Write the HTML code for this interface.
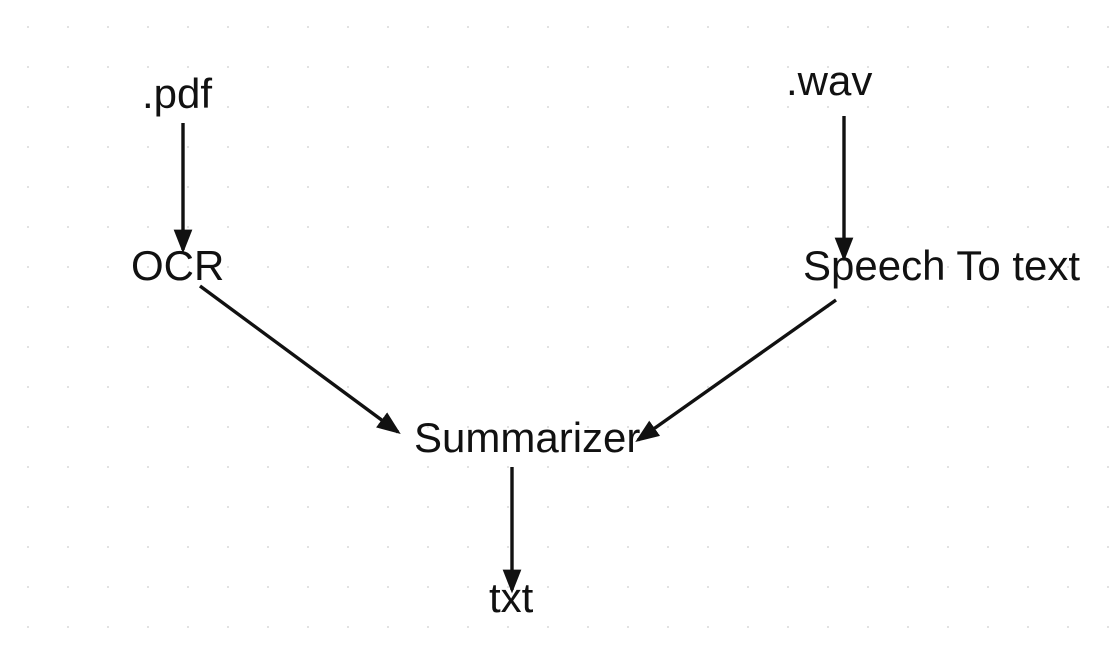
<!DOCTYPE html>
<html><head><style>
html,body{margin:0;padding:0;background:#fff;}
svg{display:block;}
text{font-family:"Liberation Sans",Arial,sans-serif;font-size:42px;fill:#111;}
</style></head><body>
<svg width="1113" height="646" viewBox="0 0 1113 646">
<defs>
<pattern id="g" x="27" y="26" width="40" height="40" patternUnits="userSpaceOnUse">
<rect x="0" y="0" width="2" height="2" fill="#e2e2e2"/>
</pattern>
<marker id="a" markerWidth="7" markerHeight="5.5" refX="6" refY="2.75" orient="auto" markerUnits="strokeWidth">
<path d="M0,0 L7,2.75 L0,5.5 z" fill="#111"/>
</marker>
</defs>
<rect width="1113" height="646" fill="url(#g)"/>
<g stroke="#111" stroke-width="3.4" fill="none" marker-end="url(#a)">
<line x1="183" y1="123" x2="183" y2="250"/>
<line x1="844" y1="116" x2="844" y2="258"/>
<line x1="200" y1="286" x2="398" y2="432"/>
<line x1="836" y1="300" x2="638" y2="440"/>
<line x1="512" y1="467" x2="512" y2="590"/>
</g>
<text x="142" y="108">.pdf</text>
<text x="786" y="95">.wav</text>
<text x="131" y="280">OCR</text>
<text x="803" y="280">Speech To text</text>
<text x="414" y="452">Summarizer</text>
<text x="489" y="612">txt</text>
</svg>
</body></html>
